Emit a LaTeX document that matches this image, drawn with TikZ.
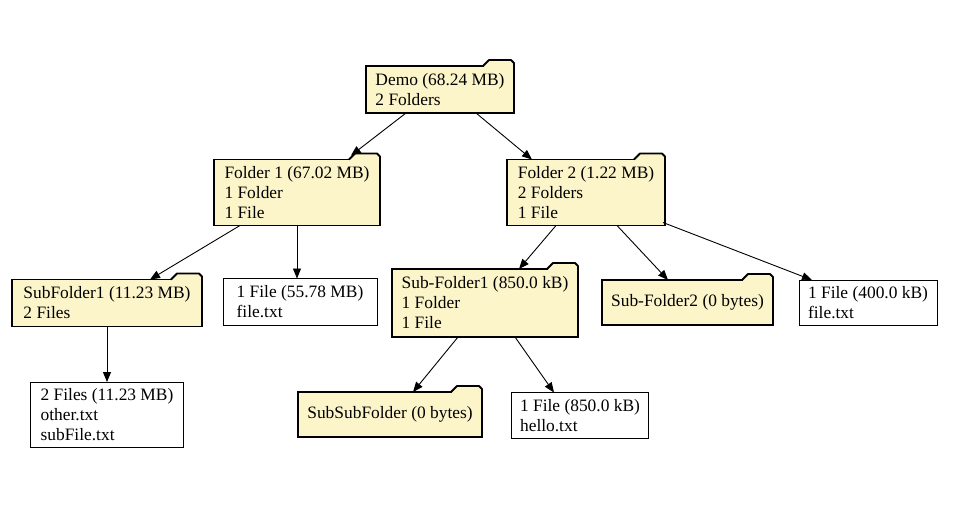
\documentclass[tikz,border=0pt]{standalone}
\usepackage{fontspec}
\setmainfont{Liberation Serif}
\usetikzlibrary{arrows.meta}
\definecolor{folderfill}{HTML}{FCF5CA}
\tikzset{x=1pt, y=-1pt,
	every node/.style={
		font=\fontsize{17.4}{20}\selectfont
	},
	folder/.style={
		draw,
		fill=folderfill,
		line width=1.8pt,
		outer sep=0pt,
		align=left,
		inner xsep=9pt
	},
	tabline/.style={
		line width=1.8pt,
		line join=round
	},
	filebox/.style={
		draw,
		fill=white,
		line width=0.9pt,
		outer sep=0pt,
		align=left,
		inner xsep=9pt
	},
	link/.style={
		draw,
		->,>={Triangle[length=10pt,width=8pt]},
		line width=0.9pt
	}
}
\newcommand{\foldertab}[1]{%
	\fill[folderfill] ([xshift=-30pt,yshift=-1.5pt]#1.north east) -- ([xshift=-30pt]#1.north east) -- ([xshift=-25pt,yshift=6pt]#1.north east) -- ([xshift=-3pt,yshift=6pt]#1.north east) -- ([xshift=-1pt,yshift=3pt]#1.north east) -- ([xshift=-1pt,yshift=-1.5pt]#1.north east) -- cycle;
	\draw[tabline] ([xshift=-31pt]#1.north east) -- ([xshift=-25pt,yshift=6pt]#1.north east) -- ([xshift=-3pt,yshift=6pt]#1.north east) -- ([yshift=3pt]#1.north east) -- ([yshift=-1pt]#1.north east);
}
\begin{document}
\begin{tikzpicture}
		\useasboundingbox (0,0) rectangle (960,515);
		\node[folder, minimum width=148pt, minimum height=47pt] (demo) at (440,89.5) {Demo (68.24 MB)\\2 Folders};
		\node[folder, minimum width=166pt, minimum height=66pt] (f1) at (297,192.5) {Folder 1 (67.02 MB)\\1 Folder\\1 File};
		\node[folder, minimum width=158pt, minimum height=66pt] (f2) at (586,192.5) {Folder 2 (1.22 MB)\\2 Folders\\1 File};
		\node[folder, minimum width=190pt, minimum height=47pt] (sub1) at (107,303) {SubFolder1 (11.23 MB)\\2 Files};
		\node[filebox, minimum width=154pt, minimum height=47pt] (file55) at (300,302) {1 File (55.78 MB)\\file.txt};
		\node[folder, minimum width=186pt, minimum height=68pt] (subf1) at (485,303) {Sub-Folder1 (850.0 kB)\\1 Folder\\1 File};
		\node[folder, minimum width=171pt, minimum height=45pt] (subf2) at (687.5,302.5) {Sub-Folder2 (0 bytes)};
		\node[filebox, minimum width=138pt, minimum height=45pt] (file400) at (868,302.5) {1 File (400.0 kB)\\file.txt};
		\node[filebox, minimum width=153pt, minimum height=65pt] (files2) at (107,414.5) {2 Files (11.23 MB)\\other.txt\\subFile.txt};
		\node[folder, minimum width=184pt, minimum height=45pt] (subsub) at (390,414.5) {SubSubFolder (0 bytes)};
		\node[filebox, minimum width=136pt, minimum height=46pt] (file850) at (580,415.5) {1 File (850.0 kB)\\hello.txt};
		\foldertab{demo}
		\foldertab{f1}
		\foldertab{f2}
		\foldertab{sub1}
		\foldertab{subf1}
		\foldertab{subf2}
		\foldertab{subsub}
		\draw[link] ([xshift=-34pt]demo.south) -- ([xshift=54pt,yshift=4pt]f1.north);
		\draw[link] ([xshift=36pt]demo.south) -- ([xshift=-54pt]f2.north);
		\draw[link] ([xshift=-57pt]f1.south) -- ([xshift=43pt]sub1.north);
		\draw[link] (f1.south) -- ([xshift=-3pt]file55.north);
		\draw[link] ([xshift=-30pt]f2.south) -- ([xshift=34pt]subf1.north);
		\draw[link] ([xshift=31pt]f2.south) -- ([xshift=-19.5pt]subf2.north);
		\draw[link] ([xshift=-2pt,yshift=3pt]f2.south east) -- ([xshift=-56pt]file400.north);
		\draw[link] (sub1.south) -- (files2.north);
		\draw[link] ([xshift=-27pt]subf1.south) -- ([xshift=23pt]subsub.north);
		\draw[link] ([xshift=30pt]subf1.south) -- ([xshift=-26pt]file850.north);
	\end{tikzpicture}
\end{document}
